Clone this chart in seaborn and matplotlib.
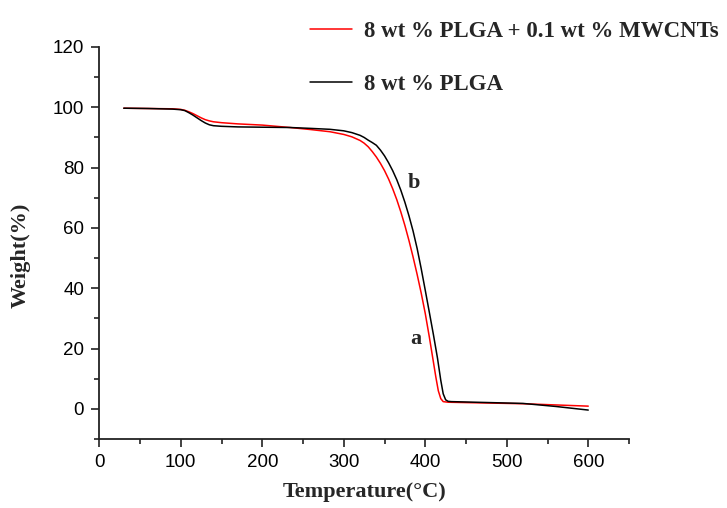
import numpy as np
import pandas as pd
import matplotlib
matplotlib.use("Agg")
import matplotlib.pyplot as plt
from matplotlib.ticker import MultipleLocator
import seaborn as sns

# --- data ---
temp_a = [30, 60, 90, 100, 105, 110, 115, 120, 125, 130, 135, 140, 150, 170, 200, 234,
          260, 283, 300, 310, 320, 325, 330, 335, 340, 345, 350, 355, 360, 365, 370,
          375, 380, 385, 390, 395, 400, 405, 410, 413, 416, 419, 422, 428, 520, 560, 600]
weight_a = [99.7, 99.6, 99.5, 99.3, 99.0, 98.5, 97.9, 97.2, 96.5, 95.9, 95.5, 95.2, 94.9,
            94.5, 94.1, 93.3, 92.6, 91.9, 91.0, 90.2, 89.0, 88.1, 86.9, 85.3, 83.5, 81.4,
            79.0, 76.2, 73.0, 69.4, 65.3, 60.8, 55.8, 50.4, 44.6, 38.4, 31.6, 23.8, 15.5,
            10.5, 6.0, 3.4, 2.4, 2.2, 1.7, 1.3, 0.9]

temp_b = [30, 60, 90, 100, 105, 110, 115, 120, 125, 130, 135, 140, 150, 170, 200, 234,
          260, 283, 300, 310, 320, 325, 330, 335, 340, 345, 350, 355, 360, 365, 370,
          375, 380, 385, 390, 395, 400, 405, 410, 415, 419, 422, 425, 428, 432, 520,
          560, 600]
weight_b = [99.7, 99.6, 99.4, 99.2, 98.9, 98.2, 97.4, 96.5, 95.6, 94.8, 94.2, 93.9, 93.7,
            93.5, 93.4, 93.3, 93.0, 92.7, 92.2, 91.6, 90.7, 90.0, 89.1, 88.3, 87.4, 85.8,
            83.9, 81.6, 79.0, 76.0, 72.5, 68.5, 64.0, 59.0, 53.2, 46.5, 39.3, 32.0, 24.6,
            16.8, 9.5, 5.0, 3.0, 2.5, 2.4, 1.8, 0.8, -0.4]

label_a = "8 wt % PLGA + 0.1 wt % MWCNTs"
label_b = "8 wt % PLGA"

x_ticks = [0, 100, 200, 300, 400, 500, 600]
y_ticks = [0, 20, 40, 60, 80, 100, 120]

df = pd.concat([
    pd.DataFrame({"Temperature": temp_a, "Weight": weight_a, "Sample": label_a}),
    pd.DataFrame({"Temperature": temp_b, "Weight": weight_b, "Sample": label_b}),
])

sns.set_theme(style="ticks")
plt.rcParams["font.family"] = ["Liberation Sans", "DejaVu Sans"]

fig = plt.figure(figsize=(7.27, 5.08), dpi=100)
ax = fig.add_axes([0.1366, 0.1358, 0.7286, 0.7717])

sns.lineplot(data=df, x="Temperature", y="Weight", hue="Sample",
             palette={label_a: "#ff0000", label_b: "#000000"},
             hue_order=[label_a, label_b], sort=False, estimator=None,
             linewidth=1.1, ax=ax)

ax.set_xlim(0, 650)
ax.set_ylim(-10, 120)
ax.set_xticks(x_ticks)
ax.set_yticks(y_ticks)
ax.xaxis.set_minor_locator(MultipleLocator(50))
ax.yaxis.set_minor_locator(MultipleLocator(10))
ax.tick_params(which="major", direction="out", length=6, width=1.2, labelsize=13.5,
               color="#222222", labelcolor="black", pad=5)
ax.tick_params(which="minor", direction="out", length=3.5, width=1.2, color="#222222")
for s in ["top", "right"]:
    ax.spines[s].set_visible(False)
for s in ["left", "bottom"]:
    ax.spines[s].set_linewidth(1.3)
    ax.spines[s].set_color("#222222")

bold_serif = dict(family=["Liberation Serif", "DejaVu Serif"], weight="bold", size=16)
ax.set_xlabel("Temperature(°C)", fontdict=bold_serif, labelpad=8)
ax.set_ylabel("Weight(%)", fontdict=bold_serif, labelpad=16)
ax.yaxis.label.set_y(0.469)

ax.text(389, 23.3, "a", fontdict=bold_serif, ha="center", va="center")
ax.text(385.5, 74.8, "b", fontdict=bold_serif, ha="center", va="center")

handles, labels = ax.get_legend_handles_labels()
ax.legend(handles, labels, loc="upper left",
          bbox_to_anchor=(310 / 727, 1 - 21 / 508), bbox_transform=fig.transFigure,
          frameon=False, prop=dict(family=["Liberation Serif", "DejaVu Serif"],
                                   weight="bold", size=16.5),
          handlelength=1.85, handletextpad=0.5, labelspacing=1.4,
          borderpad=0, borderaxespad=0)

fig.savefig("out.png", dpi=100)
